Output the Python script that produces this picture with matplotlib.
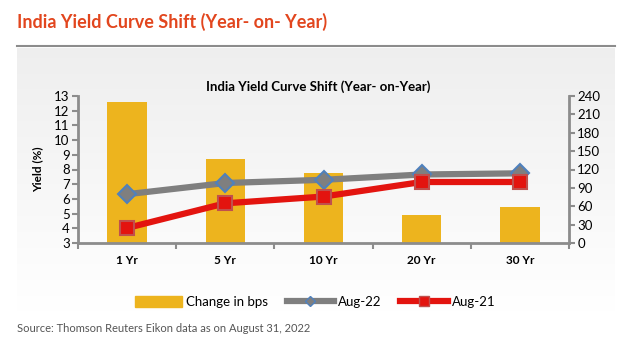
import numpy as np
import matplotlib
matplotlib.use("Agg")
import matplotlib.pyplot as plt
from matplotlib.lines import Line2D
from matplotlib.patches import Patch

categories = ["1 Yr", "5 Yr", "10 Yr", "20 Yr", "30 Yr"]
change_bps = [231, 137, 114, 45, 59]
aug22 = [6.32, 7.08, 7.30, 7.66, 7.74]
aug21 = [4.02, 5.70, 6.16, 7.15, 7.15]
left_ticks = list(range(3, 14))
right_ticks = list(range(0, 241, 30))

plt.rcParams['font.family'] = ['Lato', 'DejaVu Sans']

W, H = 625, 356
fig = plt.figure(figsize=(W / 100, H / 100), dpi=100)

# background panel gradient
bg = fig.add_axes([17 / W, 1 - 312 / H, (615 - 17) / W, (312 - 48) / H], zorder=-5)
grad = np.linspace(0.935, 1.0, 256).reshape(-1, 1)
bg.imshow(np.dstack([grad, grad, grad]), aspect='auto', extent=[0, 1, 0, 1], origin='upper')
bg.set_axis_off()

# title and rule
fig.text(17 / W, 1 - 22 / H, "India Yield Curve Shift (Year- on- Year)", color="#E2461E",
         fontsize=13, fontweight='bold', va='center', ha='left')
fig.add_artist(Line2D([17 / W, 615 / W], [1 - 46 / H, 1 - 46 / H], color="#8C8C8C", lw=1.5))
fig.text(17 / W, 1 - 328 / H, "Source: Thomson Reuters Eikon data as on August 31, 2022",
         color="#555555", fontsize=8, va='center', ha='left')

ax = fig.add_axes([78 / W, 1 - 243 / H, (569 - 78) / W, (243 - 96) / H])
ax.patch.set_alpha(0)
ax2 = ax.twinx()
ax.set_zorder(2)
ax2.set_zorder(1)

x = np.arange(len(categories))
ax2.bar(x, change_bps, width=0.4, color="#EDB41E", zorder=1)
ax2.set_ylim(0, 240)
ax2.set_yticks(right_ticks)

ax.plot(x, aug22, color="#7F7F7F", lw=4.5, marker='D', markersize=9,
        markerfacecolor="#7F7F7F", markeredgecolor="#4F81BD", markeredgewidth=1.5, zorder=3)
ax.plot(x, aug21, color="#E3140F", lw=4.5, marker='s', markersize=10,
        markerfacecolor="#E3140F", markeredgecolor="#C0504D", markeredgewidth=1.5, zorder=4)
ax.set_ylim(3, 13)
ax.set_yticks(left_ticks)
ax.set_xlim(-0.5, len(categories) - 0.5)
ax.set_xticks(x)
ax.set_xticklabels(categories, fontsize=8.5, fontweight='bold')
ax.tick_params(axis='x', length=0, pad=9)
ax.set_xticks(np.arange(-0.5, len(categories), 1.0), minor=True)
ax.tick_params(axis='x', which='minor', length=4, width=1.5, color="#8C8C8C")
ax.tick_params(axis='y', length=4, width=1.5, color="#8C8C8C", labelsize=9.5, pad=2)
ax2.tick_params(axis='y', length=4, width=1.5, color="#8C8C8C", labelsize=9.5, pad=2)

for a in (ax, ax2):
    for s in a.spines.values():
        s.set_visible(False)
ax.spines['left'].set_visible(True)
ax.spines['bottom'].set_visible(True)
ax2.spines['right'].set_visible(True)
for s in (ax.spines['left'], ax.spines['bottom'], ax2.spines['right']):
    s.set_color("#8C8C8C")
    s.set_linewidth(2)

ax.set_ylabel("Yield (%)", fontsize=8.5, fontweight='bold', labelpad=8)
fig.text(318 / W, 1 - 87 / H, "India Yield Curve Shift (Year- on-Year)", fontsize=9.5,
         fontweight='bold', ha='center', va='center')

handles = [Patch(color="#EDB41E"),
           Line2D([], [], color="#7F7F7F", lw=4.5, marker='D', markersize=5,
                  markerfacecolor="#7F7F7F", markeredgecolor="#4F81BD"),
           Line2D([], [], color="#E3140F", lw=4.5, marker='s', markersize=7,
                  markerfacecolor="#E3140F", markeredgecolor="#C0504D")]
fig.legend(handles, ["Change in bps", "Aug-22", "Aug-21"], ncol=3, frameon=False,
           loc='center', bbox_to_anchor=(315 / W, 1 - 302 / H), fontsize=9.5,
           handlelength=3.6, handleheight=0.9, handletextpad=0.3, columnspacing=1.4)

fig.savefig("out.png", dpi=100)
